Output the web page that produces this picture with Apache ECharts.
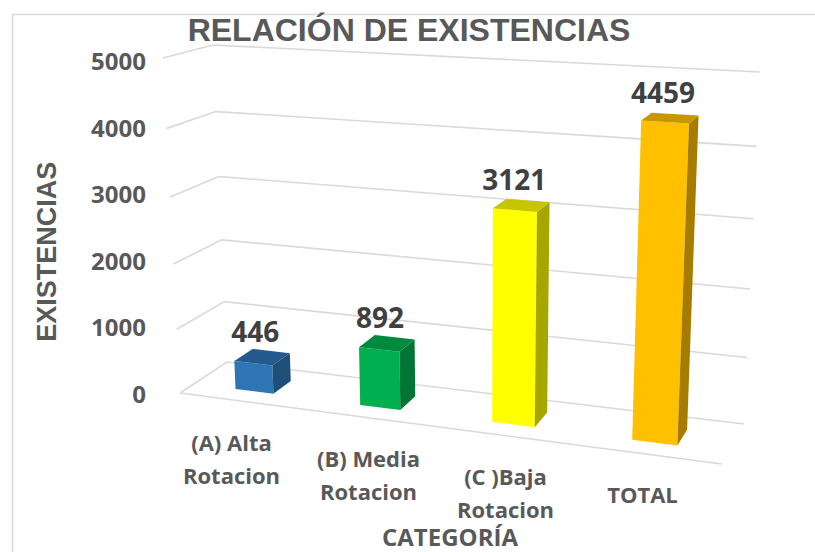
<!DOCTYPE html>
<html>
<head>
    <meta charset="utf-8">
    <title>Relación de existencias</title>
    <script src="https://cdn.jsdelivr.net/npm/echarts/dist/echarts.min.js"></script>
</head>
<body style="margin:0;background:#fff;">
<div id="main" style="width:815px;height:552px;"></div>
<script type="text/javascript">
    // data
    var categories = ['(A) Alta\nRotacion', '(B) Media\nRotacion', '(C )Baja\nRotacion', 'TOTAL'];
    var existencias = [446, 892, 3121, 4459];
    var yTicks = [0, 1000, 2000, 3000, 4000, 5000];

    // styles: front, side, top face of each bar
    var faceColors = [
        ['#2E75B6', '#1F4E79', '#245A8E'],
        ['#00B050', '#007535', '#008A3E'],
        ['#FFFF00', '#A6A600', '#C6C600'],
        ['#FFC000', '#A67C00', '#C89700']
    ];
    var labelDrop = [32, 48, 66, 84];   // label offset under the slanted floor edge
    var textGray = '#595959';

    // 3d view: corners of the box in px, relative to the grid rect
    // key = u (left/right), v (floor/top), z (front/back)
    function viewCorners(cs) {
        var x0 = cs.x, x1 = cs.x + cs.width, y0 = cs.y, y1 = cs.y + cs.height;
        return {
            '000': [x0 + 17, y1], '100': [x1 + 11, y1 + 71],
            '010': [x0, y0 - 2.5], '110': [x1 + 28, y0 + 29.5],
            '001': [x0 + 64, y1 - 31], '101': [x1 + 33, y1 + 31],
            '011': [x0 + 50, y0 - 15.5], '111': [x1 + 49, y0 + 11.5]
        };
    }
    var depthW = [-0.11, -0.06, 0];

    function projector(cs) {
        var c = viewCorners(cs);
        return function (u, v, z) {
            var sx = 0, sy = 0, sw = 0;
            for (var i = 0; i < 2; i++) for (var j = 0; j < 2; j++) for (var k = 0; k < 2; k++) {
                var t = (i ? u : 1 - u) * (j ? v : 1 - v) * (k ? z : 1 - z);
                var w = t * (1 + depthW[0] * i + depthW[1] * j + depthW[2] * k);
                var p = c['' + i + j + k];
                sx += w * p[0]; sy += w * p[1]; sw += w;
            }
            return [sx / sw, sy / sw];
        };
    }

    function toUV(cs, pt) {
        return [(pt[0] - cs.x) / cs.width, (cs.y + cs.height - pt[1]) / cs.height];
    }

    function renderGrid(params, api) {
        var cs = params.coordSys;
        var P = projector(cs);
        var v = toUV(cs, api.coord([0, api.value(1)]))[1];
        var lineStyle = {stroke: '#D9D9D9', lineWidth: 1.6, fill: null};
        var kids = [
            {type: 'polyline', shape: {points: [P(0, v, 0), P(0, v, 1), P(1, v, 1)]}, style: lineStyle}
        ];
        if (api.value(1) === 0) {
            kids.push({type: 'polyline', shape: {points: [P(0, 0, 0), P(1, 0, 0)]}, style: lineStyle});
        }
        return {type: 'group', children: kids};
    }

    function renderBar(params, api) {
        var cs = params.coordSys;
        var P = projector(cs);
        var idx = api.value(0), val = api.value(1);
        var uv = toUV(cs, api.coord([idx, val]));
        var half = api.size([1, 0])[0] * 0.155 / cs.width;
        var uL = uv[0] - half, uR = uv[0] + half, v = uv[1];
        var zF = 0.3, zB = 0.7;
        var col = faceColors[idx];
        var lab = P(uv[0], v, 0.5);
        return {
            type: 'group',
            children: [
                {type: 'polygon', shape: {points: [P(uL, 0, zF), P(uR, 0, zF), P(uR, v, zF), P(uL, v, zF)]},
                    style: {fill: col[0]}},
                {type: 'polygon', shape: {points: [P(uR, 0, zF), P(uR, 0, zB), P(uR, v, zB), P(uR, v, zF)]},
                    style: {fill: col[1]}},
                {type: 'polygon', shape: {points: [P(uL, v, zF), P(uR, v, zF), P(uR, v, zB), P(uL, v, zB)]},
                    style: {fill: col[2]}},
                {type: 'text', x: lab[0] - 7, y: lab[1] - 26,
                    style: {text: String(val), fill: '#404040', font: 'bold 28px "Open Sans"',
                        align: 'center', verticalAlign: 'middle'}}
            ]
        };
    }

    var rich = {n: {lineHeight: 32}};
    labelDrop.forEach(function (d, i) {
        rich['f' + i] = {padding: [d, 0, 6, 0]};
    });

    var chart = echarts.init(document.getElementById('main'), null, {renderer: 'svg'});
    chart.setOption({
        backgroundColor: '#ffffff',
        animation: false,
        title: {
            text: 'RELACIÓN DE EXISTENCIAS',
            left: 404,
            textAlign: 'center',
            top: 9,
            textStyle: {fontFamily: 'Liberation Sans', fontWeight: 'bold', fontSize: 32, color: textGray}
        },
        graphic: [{
            type: 'rect', left: 10, top: 12, silent: true,
            shape: {width: 830, height: 560},
            style: {fill: 'none', stroke: '#D9D9D9', lineWidth: 1.5}
        }],
        grid: {left: 163, right: 104, top: 60.5, bottom: 159, outerBoundsMode: 'none', containLabel: false},
        xAxis: {
            type: 'category',
            data: categories,
            axisLine: {show: false},
            axisTick: {show: false},
            splitLine: {show: false},
            axisLabel: {
                interval: 0,
                margin: 6,
                color: textGray,
                fontFamily: 'Open Sans',
                fontWeight: 'bold',
                fontSize: 22,
                formatter: function (value, index) {
                    return value.split('\n').map(function (line, k) {
                        return '{' + (k === 0 ? 'f' + index : 'n') + '|' + line + '}';
                    }).join('\n');
                },
                rich: rich
            },
            name: 'CATEGORÍA',
            nameLocation: 'middle',
            nameGap: 129,
            nameTextStyle: {fontFamily: 'Open Sans', fontWeight: 'bold', fontSize: 24, color: textGray,
                lineHeight: 24, padding: [0, 0, 0, 26]}
        },
        yAxis: {
            type: 'value',
            min: 0,
            max: 5000,
            interval: 1000,
            axisLine: {show: false},
            axisTick: {show: false},
            splitLine: {show: false},
            axisLabel: {
                margin: 17, color: textGray, fontFamily: 'Open Sans', fontWeight: 'bold', fontSize: 24,
                formatter: function (v) { return String(v); }
            },
            name: 'EXISTENCIAS',
            nameLocation: 'middle',
            nameRotate: 90,
            nameGap: 103,
            nameTextStyle: {fontFamily: 'Liberation Sans', fontWeight: 'bold', fontSize: 27, color: textGray,
                padding: [0, 50, 0, 0]}
        },
        series: [
            {
                type: 'custom',
                name: 'grid',
                silent: true,
                renderItem: renderGrid,
                data: yTicks.map(function (t) { return [0, t]; }),
                z: 1
            },
            {
                type: 'custom',
                name: 'Existencias',
                renderItem: renderBar,
                data: existencias.map(function (v, i) { return [i, v]; }),
                z: 2
            }
        ]
    });
</script>
</body>
</html>
